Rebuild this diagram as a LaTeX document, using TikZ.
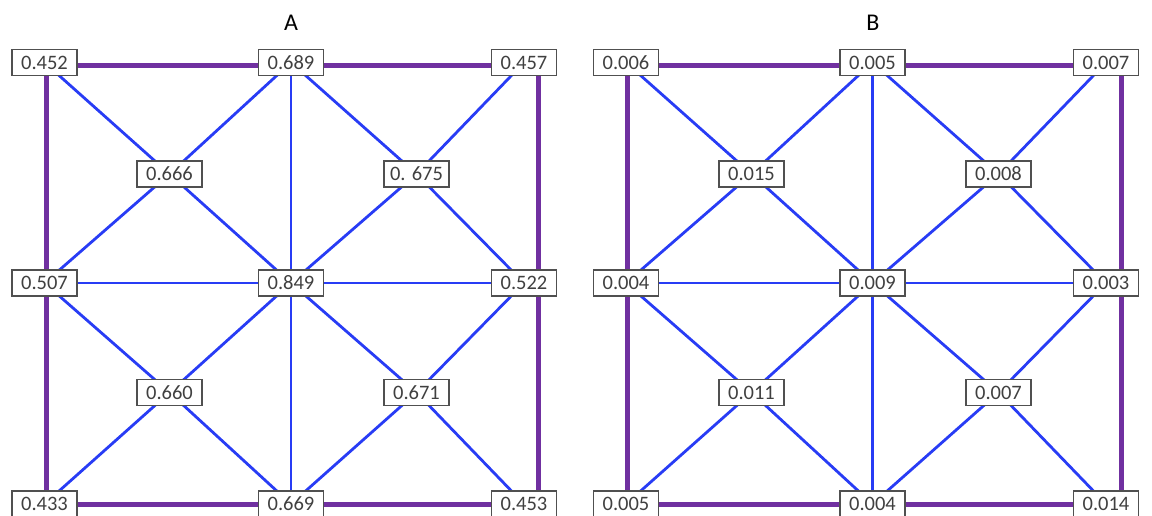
\documentclass[tikz,border=0pt]{standalone}
\usepackage{fontspec}
\setmainfont{Carlito}
\definecolor{edgeblue}{RGB}{40,60,245}
\definecolor{edgepurple}{RGB}{112,48,160}
\definecolor{txtgray}{RGB}{64,64,64}
\definecolor{boxgray}{RGB}{80,80,80}
\pgfdeclarelayer{edges}
\pgfsetlayers{edges,main}
\tikzset{
  valbox/.style={draw=boxgray, line width=1.3pt, fill=white, text=txtgray,
    minimum width=65pt, minimum height=26pt, inner sep=0pt,
    font=\fontsize{20.5}{24}\selectfont},
  title/.style={text=black, font=\fontsize{24}{28}\selectfont},
  bl/.style={draw=edgeblue, line width=2.8pt},
  pl/.style={draw=edgepurple, line width=5pt}
}
\begin{document}
\begin{tikzpicture}[x=1pt,y=-1pt]
\path[use as bounding box] (0,0) rectangle (1152,516);
\clip (0,0) rectangle (1152,516);
% ---------- Panel A ----------
\node[title] (tA) at (291,23) {A};
\path
 (44.5,62.5) node[valbox] (a11) {0.452}
 (291,62.5)  node[valbox] (a12) {0.689}
 (524,62.5)  node[valbox] (a13) {0.457}
 (169.5,174) node[valbox] (aq1) {0.666}
 (416.5,174) node[valbox] (aq2) {0. 675}
 (44.5,283)  node[valbox] (a21) {0.507}
 (291,283)   node[valbox] (a22) {0.849}
 (524,283)   node[valbox] (a23) {0.522}
 (169.5,392.5) node[valbox] (aq3) {0.660}
 (416.5,392.5) node[valbox] (aq4) {0.671}
 (44.5,504)  node[valbox] (a31) {0.433}
 (291,504)   node[valbox] (a32) {0.669}
 (524,504)   node[valbox] (a33) {0.453};
% ---------- Panel B ----------
\node[title] (tB) at (873,23) {B};
\path
 (626,62.5)  node[valbox] (b11) {0.006}
 (872.5,62.5) node[valbox] (b12) {0.005}
 (1106,62.5) node[valbox] (b13) {0.007}
 (751.5,174) node[valbox] (bq1) {0.015}
 (998.5,174) node[valbox] (bq2) {0.008}
 (626,283)   node[valbox] (b21) {0.004}
 (872.5,283) node[valbox] (b22) {0.009}
 (1106,283)  node[valbox] (b23) {0.003}
 (751.5,392.5) node[valbox] (bq3) {0.011}
 (998.5,392.5) node[valbox] (bq4) {0.007}
 (626,504)   node[valbox] (b31) {0.005}
 (872.5,504) node[valbox] (b32) {0.004}
 (1106,504)  node[valbox] (b33) {0.014};
% ---------- connectors ----------
\begin{pgfonlayer}{edges}
\foreach \p/\rs in {a/14, b/15} {
  % outer frame (purple)
  \draw[pl] ([yshift=-3]\p11.center) -- ([yshift=-3]\p12.center) -- ([yshift=-3]\p13.center);
  \draw[pl] (\p31.center) -- (\p32.center) -- (\p33.center);
  \draw[pl] ([xshift=1.5]\p11.center) -- ([xshift=1.5]\p21.center) -- ([xshift=1.5]\p31.center);
  \draw[pl] ([xshift=\rs]\p13.center) -- ([xshift=\rs]\p23.center) -- ([xshift=\rs]\p33.center);
  % inner lines (blue)
  \draw[bl] (\p21.center) -- (\p22.center) -- (\p23.center);
  \draw[bl] (\p12.center) -- (\p22.center) -- (\p32.center);
  \foreach \q/\c in {q1/11, q1/12, q1/21, q1/22,
                     q2/12, q2/13, q2/22, q2/23,
                     q3/21, q3/22, q3/31, q3/32,
                     q4/22, q4/23, q4/32, q4/33}
    \draw[bl] (\p\q.center) -- (\p\c.center);
}
\end{pgfonlayer}
\end{tikzpicture}
\end{document}
